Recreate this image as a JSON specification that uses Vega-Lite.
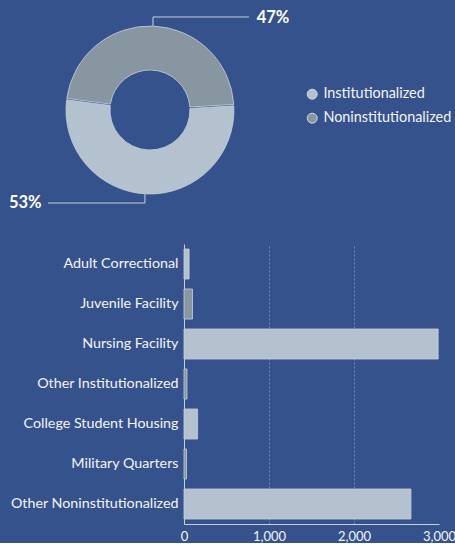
{
  "$schema": "https://vega.github.io/schema/vega-lite/v6.json",
  "background": "#36528c",
  "padding": {"left": 8, "top": 9, "right": 0, "bottom": 0},
  "config": {
    "view": {"stroke": null},
    "font": "Lato",
    "text": {"font": "Lato"}
  },
  "spacing": 32,
  "vconcat": [
    {
      "width": 255,
      "height": 200,
      "encoding": {
        "x": {"type": "quantitative", "scale": {"domain": [0.405, 3.44], "zero": false, "nice": false}, "axis": null},
        "y": {"type": "quantitative", "scale": {"domain": [-1.19, 1.19], "zero": false, "nice": false}, "axis": null}
      },
      "layer": [
        {
          "data": {
            "values": [
              {"type": "Institutionalized", "pct": 53},
              {"type": "Noninstitutionalized", "pct": 47}
            ]
          },
          "mark": {
            "type": "arc",
            "outerRadius": 84,
            "innerRadius": 40,
            "padAngle": 0.015,
            "stroke": "#c5d0db",
            "strokeWidth": 0.8
          },
          "encoding": {
            "x": {"datum": 0, "type": "quantitative"},
            "y": {"datum": 0, "type": "quantitative"},
            "theta": {
              "field": "pct",
              "type": "quantitative",
              "stack": true,
              "scale": {"range": [1.513, 7.796]}
            },
            "color": {
              "field": "type",
              "type": "nominal",
              "scale": {
                "domain": ["Institutionalized", "Noninstitutionalized"],
                "range": ["#b4c2cf", "#8796a0"]
              },
              "legend": {
                "title": null,
                "orient": "none",
                "legendX": 121,
                "legendY": 77,
                "symbolType": "circle",
                "symbolSize": 100,
                "symbolStrokeColor": "#d0d8e0",
                "symbolStrokeWidth": 1,
                "labelFontSize": 14.4,
                "labelColor": "#f2f4f8",
                "labelFont": "Lato",
                "rowPadding": 8,
                "labelOffset": 4
              }
            }
          }
        },
        {
          "data": {
            "values": [
              {"label": "47%", "step": 1, "px": 0.036, "py": 1.0},
              {"label": "47%", "step": 2, "px": 0.036, "py": 1.107},
              {"label": "47%", "step": 3, "px": 1.179, "py": 1.107},
              {"label": "53%", "step": 1, "px": -0.06, "py": -1.0},
              {"label": "53%", "step": 2, "px": -0.06, "py": -1.107},
              {"label": "53%", "step": 3, "px": -1.214, "py": -1.107}
            ]
          },
          "mark": {"type": "line", "color": "#c8d2dc", "strokeWidth": 1},
          "encoding": {
            "x": {"field": "px", "type": "quantitative"},
            "y": {"field": "py", "type": "quantitative"},
            "detail": {"field": "label"},
            "order": {"field": "step"}
          }
        },
        {
          "data": {"values": [{"label": "47%", "px": 1.27, "py": 1.095}]},
          "mark": {"type": "text", "fontSize": 16.5, "fontWeight": "bold", "color": "#ffffff", "baseline": "middle", "align": "left"},
          "encoding": {
            "x": {"field": "px", "type": "quantitative"},
            "y": {"field": "py", "type": "quantitative"},
            "text": {"field": "label"}
          }
        },
        {
          "data": {"values": [{"label": "53%", "px": -1.29, "py": -1.107}]},
          "mark": {"type": "text", "fontSize": 16.5, "fontWeight": "bold", "color": "#ffffff", "baseline": "middle", "align": "right"},
          "encoding": {
            "x": {"field": "px", "type": "quantitative"},
            "y": {"field": "py", "type": "quantitative"},
            "text": {"field": "label"}
          }
        }
      ]
    },
    {
      "width": 255,
      "height": 280,
      "data": {
        "values": [
          {"category": "Adult Correctional", "value": 60},
          {"category": "Juvenile Facility", "value": 100},
          {"category": "Nursing Facility", "value": 2990},
          {"category": "Other Institutionalized", "value": 35},
          {"category": "College Student Housing", "value": 160},
          {"category": "Military Quarters", "value": 30},
          {"category": "Other Noninstitutionalized", "value": 2670}
        ]
      },
      "mark": {"type": "bar", "stroke": "#c5d0db", "strokeWidth": 0.8},
      "encoding": {
        "y": {
          "field": "category",
          "type": "nominal",
          "sort": null,
          "title": null,
          "scale": {"paddingInner": 0.25, "paddingOuter": 0.125},
          "axis": {
            "ticks": false,
            "labelPadding": 6,
            "domainColor": "#c5d0db",
            "labelColor": "#f2f4f8",
            "labelFontSize": 14.3,
            "labelFont": "Lato"
          }
        },
        "x": {
          "field": "value",
          "type": "quantitative",
          "title": null,
          "scale": {"domain": [0, 3000]},
          "axis": {
            "values": [0, 1000, 2000, 3000],
            "format": ",.0f",
            "ticks": false,
            "labelPadding": 6,
            "domainColor": "#c5d0db",
            "labelColor": "#f2f4f8",
            "labelFontSize": 13,
            "labelFont": "Lato",
            "labelFlush": false,
            "gridColor": "#c5d0db",
            "gridDash": [2, 2],
            "gridOpacity": {"condition": {"test": "datum.value === 0 || datum.value === 3000", "value": 0}, "value": 0.45}
          }
        },
        "color": {
          "condition": {
            "test": "indexof(['Juvenile Facility', 'Other Institutionalized', 'Military Quarters'], datum.category) >= 0",
            "value": "#8796a0"
          },
          "value": "#b4c2cf"
        }
      }
    }
  ]
}
